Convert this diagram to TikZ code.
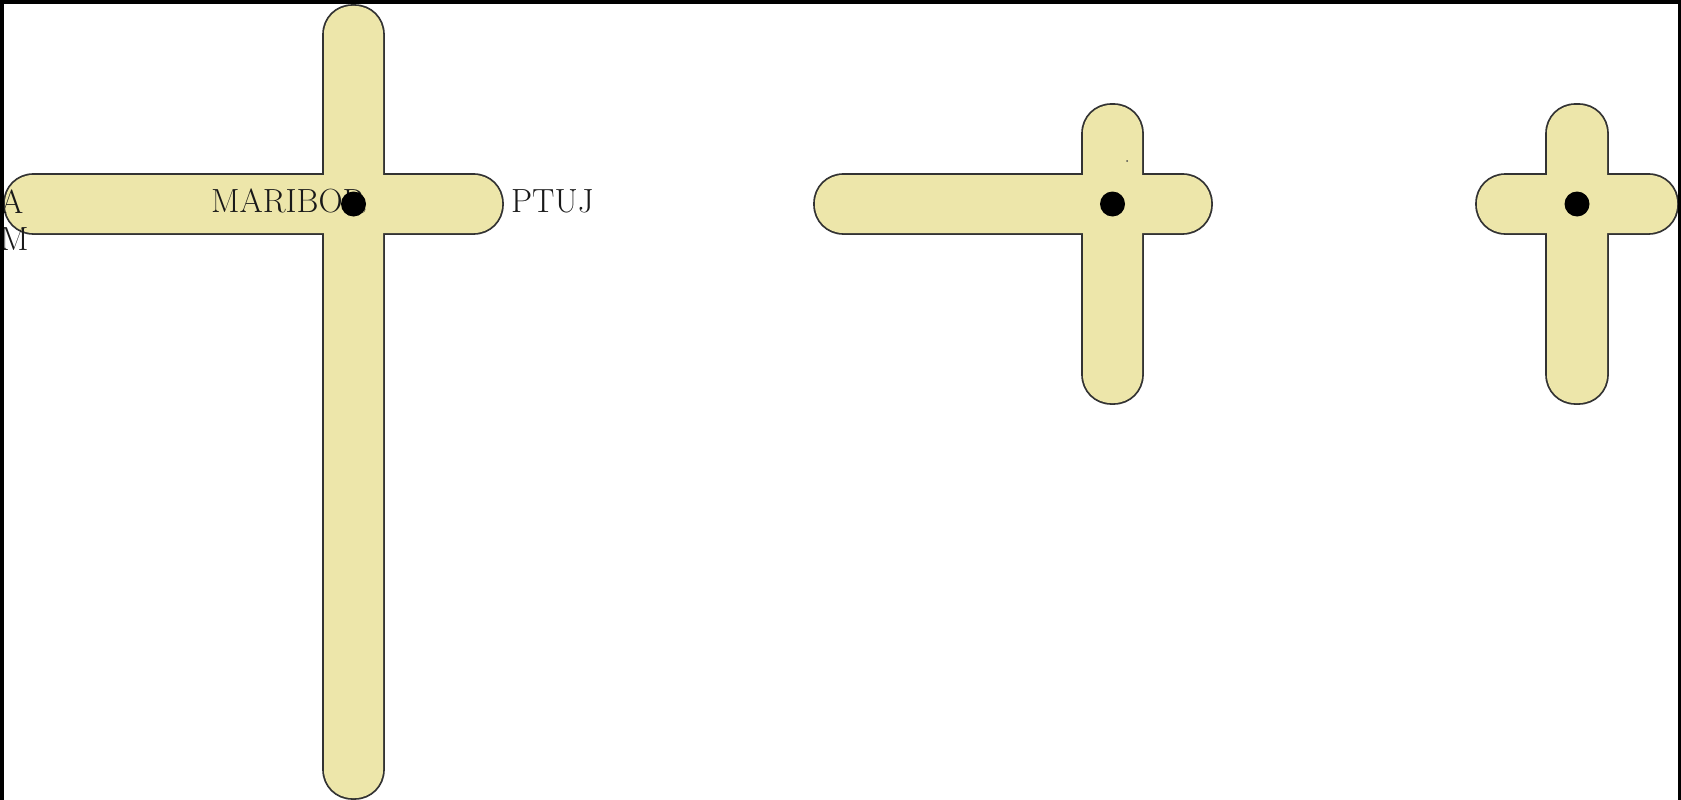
\documentclass[tikz,border=0pt]{standalone}
\usepackage{fontspec}
\definecolor{barfillc}{HTML}{EDE6AA}
\definecolor{barline}{HTML}{333333}
\tikzset{
  x=1pt, y=-1pt,
  barstroke/.style={draw=barline, line width=3.6pt, rounded corners=28pt},
  barbody/.style={fill=barfillc, rounded corners=28pt},
  pin/.style={circle, fill=black, inner sep=0pt, minimum size=25pt},
  place/.style={anchor=base west, inner sep=0pt, text=black!90, font=\fontsize{33.5}{38}\selectfont},
}
\begin{document}
\begin{tikzpicture}
\useasboundingbox (0,0) rectangle (1681,800);
\fill[white] (0,0) rectangle (1681,800);

% outlines of the three crosses (inner halves are covered by the fill below)
\foreach \hx/\hX/\vx/\vX/\vy/\vY in {5/502/324/383/6/798, 815/1211/1083/1142/105/403, 1477/1677/1547/1607/105/403}{
  \path[barstroke] (\hx,175) rectangle (\hX,233);
  \path[barstroke] (\vx,\vy) rectangle (\vX,\vY);
}
\foreach \hx/\hX/\vx/\vX/\vy/\vY in {5/502/324/383/6/798, 815/1211/1083/1142/105/403, 1477/1677/1547/1607/105/403}{
  \path[barbody] (\hx,175) rectangle (\hX,233);
  \path[barbody] (\vx,\vy) rectangle (\vX,\vY);
}

% place names
\node[place] (maribor) at (211,212) {MARIBOR};
\node[place] (ptuj) at (511,212) {PTUJ};
\node[place] (lefta) at (0,213) {A};
\node[place] (leftm) at (0,250) {M};

% junction dots
\node[pin] (j1) at (353.5,204) {};
\node[pin] (j2) at (1112.5,204) {};
\node[pin] (j3) at (1577,204) {};
\node[circle, fill=black!70, inner sep=0pt, minimum size=2pt] (speck) at (1127,161) {};

% frame
\fill[black] (0,0) rectangle (1681,4);
\fill[black] (0,0) rectangle (4,800);
\fill[black] (1678,0) rectangle (1681,800);
\end{tikzpicture}
\end{document}
